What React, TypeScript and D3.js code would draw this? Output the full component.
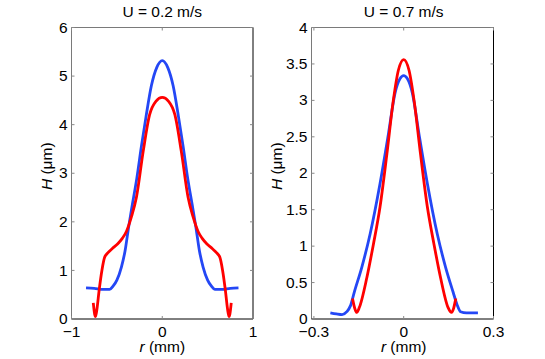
import * as d3 from "d3";

// U = 0.2 m/s panel
const leftBlueR = [-0.84, -0.75, -0.65, -0.58, -0.54, -0.5, -0.45, -0.41, -0.37, -0.33, -0.28, -0.23, -0.18, -0.12, -0.06, 0, 0.06, 0.12, 0.18, 0.23, 0.28, 0.33, 0.37, 0.41, 0.45, 0.5, 0.54, 0.58, 0.65, 0.75, 0.84];
const leftBlueH = [0.64, 0.63, 0.61, 0.61, 0.68, 0.8, 1.07, 1.4, 1.9, 2.35, 2.9, 3.55, 4.15, 4.8, 5.18, 5.32, 5.18, 4.8, 4.15, 3.55, 2.9, 2.35, 1.9, 1.4, 1.07, 0.8, 0.68, 0.61, 0.61, 0.63, 0.64];
const leftRedR = [-0.76, -0.745, -0.735, -0.72, -0.695, -0.665, -0.635, -0.6, -0.55, -0.49, -0.44, -0.395, -0.34, -0.285, -0.21, -0.14, -0.07, 0, 0.07, 0.14, 0.21, 0.285, 0.34, 0.395, 0.44, 0.49, 0.55, 0.6, 0.635, 0.665, 0.695, 0.72, 0.735, 0.745, 0.76];
const leftRedH = [0.33, 0.1, 0.05, 0.2, 0.6, 1.0, 1.27, 1.36, 1.45, 1.55, 1.66, 1.8, 2.1, 2.5, 3.45, 4.2, 4.48, 4.56, 4.48, 4.2, 3.45, 2.5, 2.1, 1.8, 1.66, 1.55, 1.45, 1.36, 1.27, 1.0, 0.6, 0.2, 0.05, 0.1, 0.33];

// U = 0.7 m/s panel
const rightBlueR = [-0.245, -0.225, -0.206, -0.19, -0.178, -0.165, -0.14, -0.112, -0.079, -0.051, -0.029, -0.012, 0, 0.012, 0.029, 0.051, 0.079, 0.112, 0.14, 0.165, 0.178, 0.19, 0.21, 0.248];
const rightBlueH = [0.085, 0.07, 0.06, 0.1, 0.18, 0.37, 0.71, 1.17, 1.86, 2.54, 3.1, 3.3, 3.34, 3.3, 3.1, 2.54, 1.86, 1.17, 0.71, 0.37, 0.2, 0.1, 0.085, 0.085];
const rightRedR = [-0.171, -0.163, -0.157, -0.148, -0.123, -0.101, -0.079, -0.056, -0.035, -0.018, 0, 0.018, 0.035, 0.056, 0.079, 0.101, 0.123, 0.148, 0.16, 0.167, 0.174];
const rightRedH = [0.28, 0.14, 0.09, 0.16, 0.57, 1.03, 1.54, 2.27, 2.99, 3.41, 3.56, 3.41, 2.99, 2.27, 1.54, 1.03, 0.57, 0.16, 0.09, 0.15, 0.28];

const leftXTicks = [-1, 0, 1];
const leftYTicks = [0, 1, 2, 3, 4, 5, 6];
const rightXTicks = [-0.3, 0, 0.3];
const rightYTicks = [0, 0.5, 1, 1.5, 2, 2.5, 3, 3.5, 4];

const titles = ["U = 0.2 m/s", "U = 0.7 m/s"];

const BLUE = "#2447f5";
const RED = "#ff0000";
const FONT = "'Liberation Sans', Arial, sans-serif";

const fmt = (v: number) => (v < 0 ? "\u2212" + String(-v) : String(v));

function Panel({ x0, x1, xDomain, yDomain, xTicks, yTicks, title, blue, red, ylabelX }: any) {
  const top = 27.5, bottom = 319;
  const x = d3.scaleLinear().domain(xDomain).range([x0, x1]);
  const y = d3.scaleLinear().domain(yDomain).range([bottom, top]);
  const line = d3
    .line<[number, number]>()
    .x((d) => x(d[0]))
    .y((d) => y(d[1]))
    .curve(d3.curveMonotoneX);
  const cx = x(0);
  const midY = (top + bottom) / 2;

  return (
    <g fontFamily={FONT} fontSize={15.5}>
      <text x={cx} y={17} textAnchor="middle">{title}</text>
      {/* curves */}
      <path d={line(blue) || ""} fill="none" stroke={BLUE} strokeWidth={2.8} />
      <path d={line(red) || ""} fill="none" stroke={RED} strokeWidth={2.8} />
      {/* box */}
      <line x1={x0} x2={x0} y1={top} y2={bottom} stroke="#7a7a7a" />
      <line x1={x0} x2={x1} y1={top} y2={top} stroke="#7a7a7a" />
      <line x1={x1} x2={x1} y1={top} y2={bottom} stroke="#000" />
      <line x1={x0} x2={x1} y1={bottom} y2={bottom} stroke="#000" />
      {/* ticks */}
      {yTicks.map((t: number) => (
        <g key={"y" + t}>
          <line x1={x0} x2={x0 + 3} y1={y(t)} y2={y(t)} stroke="#888" />
          <line x1={x1} x2={x1 - 3} y1={y(t)} y2={y(t)} stroke="#888" />
          <text x={x0 - 4} y={y(t) + 1} textAnchor="end" dominantBaseline="middle">{fmt(t)}</text>
        </g>
      ))}
      {xTicks.map((t: number) => (
        <g key={"x" + t}>
          <line x1={x(t)} x2={x(t)} y1={bottom} y2={bottom - 3} stroke="#888" />
          <line x1={x(t)} x2={x(t)} y1={top} y2={top + 3} stroke="#888" />
          <text x={x(t)} y={bottom + 18} textAnchor="middle">{fmt(t)}</text>
        </g>
      ))}
      <text x={cx} y={352} textAnchor="middle">
        <tspan fontStyle="italic">r</tspan> (mm)
      </text>
      <text transform={`translate(${ylabelX},${midY - 7}) rotate(-90)`} textAnchor="middle">
        <tspan fontStyle="italic">H</tspan> ({"\u03bc"}m)
      </text>
    </g>
  );
}

export default function App() {
  const zip = (a: number[], b: number[]) => a.map((v, i) => [v, b[i]] as [number, number]);
  return (
    <svg width={545} height={359} style={{ position: "absolute", left: 0, top: 0, background: "#fff" }}>
      <Panel
        x0={71.5}
        x1={253}
        xDomain={[-1, 1]}
        yDomain={[0, 6]}
        xTicks={leftXTicks}
        yTicks={leftYTicks}
        title={titles[0]}
        blue={zip(leftBlueR, leftBlueH)}
        red={zip(leftRedR, leftRedH)}
        ylabelX={52}
      />
      <Panel
        x0={311.5}
        x1={493.5}
        xDomain={[-0.308, 0.3]}
        yDomain={[0, 4]}
        xTicks={rightXTicks}
        yTicks={rightYTicks}
        title={titles[1]}
        blue={zip(rightBlueR, rightBlueH)}
        red={zip(rightRedR, rightRedH)}
        ylabelX={282}
      />
    </svg>
  );
}
